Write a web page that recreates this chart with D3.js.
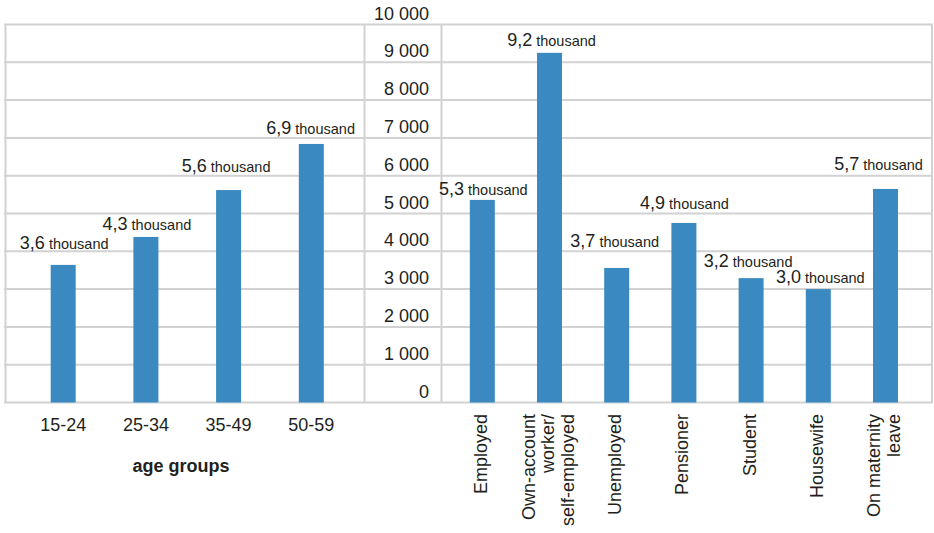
<!DOCTYPE html>
<html>
<head>
<meta charset="utf-8">
<script src="https://cdn.jsdelivr.net/npm/d3@7"></script>
<style>
  html, body { margin: 0; padding: 0; background: #fff; }
  svg { display: block; font-family: "Liberation Sans", Arial, Helvetica, sans-serif; }
</style>
</head>
<body>
<svg id="chart" width="934" height="533"></svg>
<script>
// ---- data ----
const ageGroups = ["15-24", "25-34", "35-49", "50-59"];
const ageValues = [3640, 4380, 5620, 6840];
const ageLabels = ["3,6", "4,3", "5,6", "6,9"];

const statusGroups = [
  ["Employed"],
  ["Own-account", "worker/", "self-employed"],
  ["Unemployed"],
  ["Pensioner"],
  ["Student"],
  ["Housewife"],
  ["On maternity", "leave"]
];
const statusValues = [5360, 9250, 3560, 4750, 3290, 3000, 5650];
const statusLabels = ["5,3", "9,2", "3,7", "4,9", "3,2", "3,0", "5,7"];

const yTicks = [0, 1000, 2000, 3000, 4000, 5000, 6000, 7000, 8000, 9000, 10000];
const unitWord = "thousand";
const ageAxisTitle = "age groups";

// ---- layout / style (not data) ----
const ageLabelNudge = [[1, -15.7], [1, -7], [-2.5, -18.3], [-0.7, -10]];
const statusLabelNudge = [[1, -5], [2, -7.3], [-2, -21], [0.5, -14], [-3, -10.7], [2, -5.7], [-7, -19]];
const barColor = "#3a89c1";
const gridColor = "#d2d2d2";
const textColor = "#231f20";

const svg = d3.select("#chart");
const plotTop = 24.5, plotBottom = 402.5;
const leftX = 5.5, axisColL = 364.5, axisColR = 441.5, rightX = 932;

const y = d3.scaleLinear().domain([0, 10000]).range([plotBottom, plotTop]);

const xAge = d3.scaleBand().domain(ageGroups)
  .range([21.85, 352.65]).paddingInner(0.6977).paddingOuter(0.6977 / 2);
const statusKeys = statusGroups.map(g => g.join(" "));
const xStatus = d3.scaleBand().domain(statusKeys)
  .range([448.7, 919.1]).paddingInner(0.628).paddingOuter(0.628 / 2);

const fmt = d3.formatLocale({ decimal: ",", thousands: " ", grouping: [3], currency: ["", ""] }).format(",d");

// grid
const grid = svg.append("g");
grid.selectAll("line.h").data(yTicks).join("line")
  .attr("x1", leftX - 1.5).attr("x2", rightX + 1)
  .attr("y1", d => y(d)).attr("y2", d => y(d))
  .attr("stroke", gridColor).attr("stroke-width", 2);
grid.selectAll("line.v").data([leftX, axisColL, axisColR, rightX]).join("line")
  .attr("x1", d => d).attr("x2", d => d)
  .attr("y1", plotTop).attr("y2", plotBottom)
  .attr("stroke", gridColor).attr("stroke-width", 2);

// y tick labels in middle column
svg.append("g").selectAll("text").data(yTicks).join("text")
  .attr("x", 429).attr("y", d => y(d) - 5)
  .attr("text-anchor", "end")
  .attr("font-size", 18).attr("fill", textColor)
  .text(d => fmt(d));

// bars
function drawBars(scale, keys, values) {
  svg.append("g").selectAll("rect").data(values).join("rect")
    .attr("x", (d, i) => scale(keys[i]))
    .attr("width", scale.bandwidth())
    .attr("y", d => y(d))
    .attr("height", d => y(0) - y(d))
    .attr("fill", barColor);
}
drawBars(xAge, ageGroups, ageValues);
drawBars(xStatus, statusKeys, statusValues);

// value labels
function drawValueLabels(scale, keys, values, labels, nudge) {
  const t = svg.append("g").selectAll("text").data(values).join("text")
    .attr("x", (d, i) => scale(keys[i]) + scale.bandwidth() / 2 + nudge[i][0])
    .attr("y", (d, i) => y(d) + nudge[i][1])
    .attr("text-anchor", "middle").attr("fill", textColor);
  t.append("tspan").attr("font-size", 18).text((d, i) => labels[i]);
  t.append("tspan").attr("font-size", 14.5).text(" " + unitWord);
}
drawValueLabels(xAge, ageGroups, ageValues, ageLabels, ageLabelNudge);
drawValueLabels(xStatus, statusKeys, statusValues, statusLabels, statusLabelNudge);

// age category labels
svg.append("g").selectAll("text").data(ageGroups).join("text")
  .attr("x", d => xAge(d) + xAge.bandwidth() / 2)
  .attr("y", 430.7)
  .attr("text-anchor", "middle").attr("font-size", 18).attr("fill", textColor)
  .text(d => d);

svg.append("text")
  .attr("x", 181).attr("y", 471.5)
  .attr("text-anchor", "middle").attr("font-size", 18).attr("font-weight", "bold")
  .attr("fill", textColor).text(ageAxisTitle);

// status category labels (rotated)
const lineGap = 19.5;
const sg = svg.append("g").selectAll("g").data(statusGroups).join("g")
  .attr("transform", (d, i) => `translate(${xStatus(statusKeys[i]) + xStatus.bandwidth() / 2 - 1.5},414)`);
sg.selectAll("text").data(d => d.map((s, j) => ({ s, j, n: d.length }))).join("text")
  .attr("transform", d => `translate(${(d.j - (d.n - 1) / 2) * lineGap},0) rotate(-90)`)
  .attr("text-anchor", "end")
  .attr("dominant-baseline", "central")
  .attr("font-size", 18).attr("fill", textColor)
  .text(d => d.s);
</script>
</body>
</html>
